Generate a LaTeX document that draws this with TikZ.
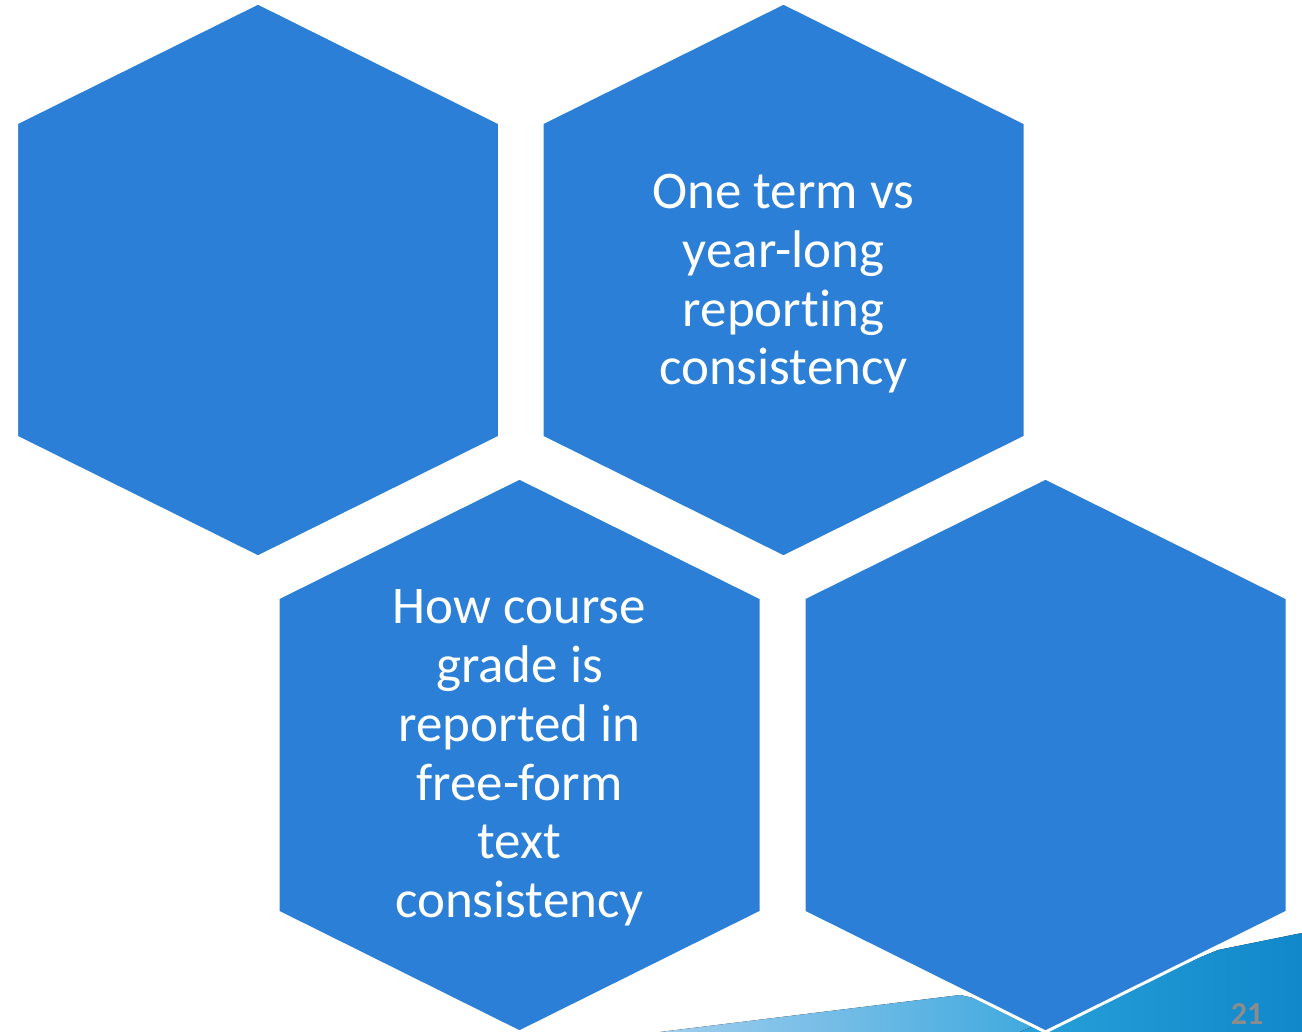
\documentclass[tikz,border=0pt]{standalone}
\usepackage{fontspec}
\setmainfont{Carlito}[Ligatures=NoCommon]

\definecolor{hexblue}{RGB}{43,127,214}
\definecolor{bandlight}{RGB}{160,206,238}
\definecolor{bandmid}{RGB}{40,160,218}
\definecolor{banddark}{RGB}{16,136,202}
\definecolor{pagegray}{RGB}{140,140,140}

\tikzset{
  hexcell/.style={fill=hexblue,draw=white,line width=3pt,line join=miter},
  hextext/.style={text=white,align=center,font=\fontsize{53}{58.7}\selectfont},
}

\begin{document}
\begin{tikzpicture}[x=1pt,y=-1pt]
    \useasboundingbox (0,0) rectangle (1302,1032);
	%% bands in the lower right corner
	\fill[left color=bandlight,right color=bandmid] (660,1032) -- (960,995) -- (1130,1032) -- cycle;
	\fill[left color=bandmid,right color=banddark] (1020,1032) -- (1218,950) -- (1302,933) -- (1302,1032) -- cycle;

	%% hexagons
	\foreach \n/\cx/\cy in {a/258/280, b/783.5/280, c/519.5/755, d/1045.5/755} {
	  \fill[hexcell] (\cx,\cy) ++(0,-277) -- ++(241.5,120) -- ++(0,314)
	    -- ++(-241.5,120) -- ++(-241.5,-120) -- ++(0,-314) -- cycle;
	  \coordinate (hex-\n) at (\cx,\cy);
	}

	\node[hextext] (term) at ([yshift=-4]hex-b) {One term vs\\year-long\\reporting\\consistency};
	\node[hextext] (grade) at ([yshift=-3]hex-c) {How course\\grade is\\reported in\\free-form\\text\\consistency};

	\node[text=pagegray,font=\fontsize{32}{32}\selectfont\bfseries] (pageno) at (1247,1014) {21};
\end{tikzpicture}
\end{document}
